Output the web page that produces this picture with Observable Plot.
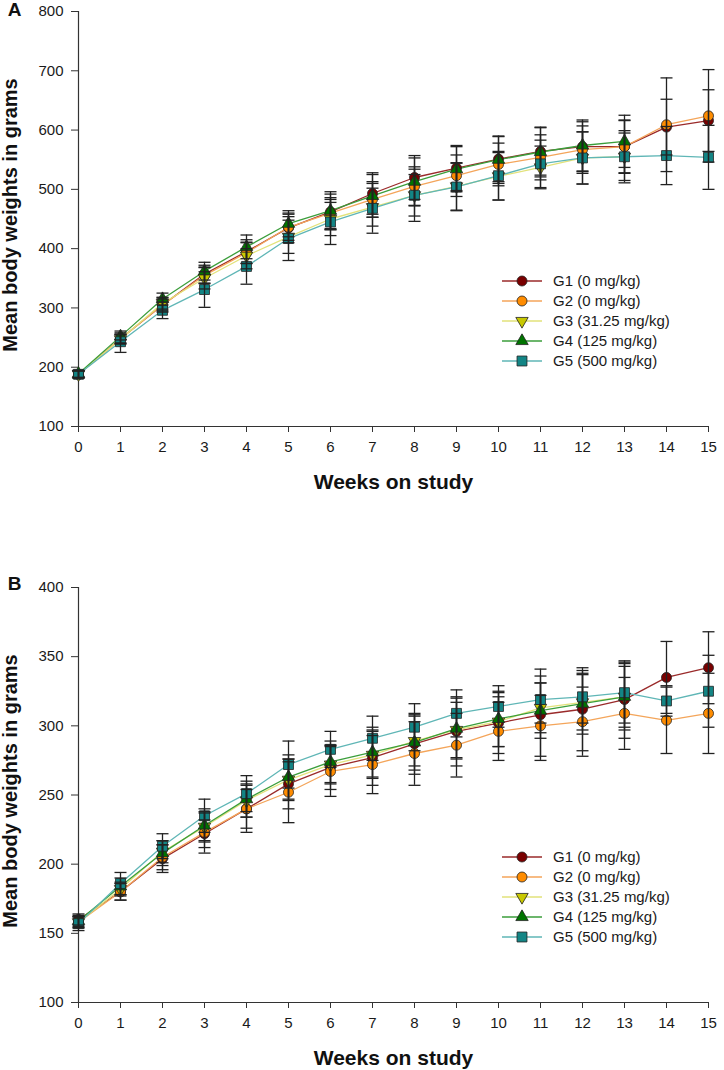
<!DOCTYPE html>
<html>
<head>
<meta charset="utf-8">
<script src="https://cdn.jsdelivr.net/npm/d3@7"></script>
<script src="https://cdn.jsdelivr.net/npm/@observablehq/plot@0.6"></script>
<style>
  html, body { margin: 0; padding: 0; background: #fff; }
  svg { display: block; }
</style>
</head>
<body>
<div id="chart"></div>
<script>
// ---------- data ----------
const weeks = [0,1,2,3,4,5,6,7,8,9,10,11,12,13,14,15];
const groupNames = ["G1 (0 mg/kg)", "G2 (0 mg/kg)", "G3 (31.25 mg/kg)", "G4 (125 mg/kg)", "G5 (500 mg/kg)"];

// Panel A (mean body weight, g)
const aG1 = [188, 248, 305, 357, 395, 435, 462, 493, 520, 536, 551, 564, 572, 572, 605, 616];
const aG2 = [188, 248, 305, 355, 393, 436, 460, 483, 505, 523, 542, 554, 567, 572, 609, 624];
const aG3 = [188, 247, 308, 350, 388, 420, 450, 470, 490, 505, 522, 537, 553, 555];
const aG4 = [189, 252, 315, 362, 403, 442, 464, 489, 513, 534, 550, 563, 574, 581];
const aG5 = [188, 243, 296, 331, 370, 417, 445, 468, 490, 504, 523, 543, 553, 555, 557, 554];
// Panel A standard deviations
const aSd1 = [6, 8, 12, 15, 20, 25, 30, 35, 37, 38, 38, 40, 42, 45, 47, 52];
const aSd2 = [6, 7, 10, 14, 18, 22, 26, 30, 33, 35, 36, 38, 40, 44, 79, 78];
const aSd3 = [6, 8, 10, 18, 22, 28, 28, 32, 35, 40, 40, 36, 44, 40];
const aSd4 = [6, 6, 10, 15, 20, 22, 32, 36, 40, 38, 40, 42, 43, 44];
const aSd5 = [6, 18, 14, 30, 30, 37, 38, 42, 44, 40, 41, 40, 44, 44, 49, 54];

// Panel B (mean body weight, g)
const bG1 = [160, 180, 204, 222, 240, 258, 270, 277, 287, 296, 302, 308, 312, 319, 335, 342];
const bG2 = [158, 180, 205, 223, 240, 252, 267, 272, 280, 286, 296, 300, 303, 309, 304, 309];
const bG3 = [158, 182, 209, 227, 246, 261, 272, 279, 289, 297, 303, 313, 317, 321];
const bG4 = [159, 184, 208, 228, 247, 263, 274, 281, 288, 298, 305, 311, 316, 321];
const bG5 = [157, 186, 213, 235, 251, 272, 283, 291, 299, 309, 314, 319, 321, 324, 318, 325];
// Panel B standard deviations
const bSd1 = [4, 6, 10, 10, 14, 18, 16, 20, 22, 25, 22, 33, 30, 28, 26, 26];
const bSd2 = [4, 6, 9, 15, 17, 22, 18, 21, 23, 23, 21, 22, 25, 26, 24, 29];
const bSd3 = [4, 5, 8, 10, 12, 15, 14, 17, 18, 20, 18, 18, 20, 22];
const bSd4 = [4, 6, 9, 12, 13, 16, 15, 18, 20, 22, 20, 20, 22, 24];
const bSd5 = [5, 8, 9, 12, 13, 17, 13, 16, 17, 17, 15, 17, 19, 22, 11, 26];

const aTicks = [100, 200, 300, 400, 500, 600, 700, 800];
const bTicks = [100, 150, 200, 250, 300, 350, 400];

// ---------- styles ----------
const lineColors = ["#9a2a2a", "#f4a55a", "#e2e27a", "#3b9e3b", "#5fb6b6"];
const fillColors = ["#7a0000", "#ff8c00", "#c8c800", "#007400", "#138585"];
const triDown = {
  draw(ctx, size) {
    const y = -Math.sqrt(size / (Math.sqrt(3) * 3));
    ctx.moveTo(0, -y * 2);
    ctx.lineTo(-Math.sqrt(3) * y, y);
    ctx.lineTo(Math.sqrt(3) * y, y);
    ctx.closePath();
  }
};
const hline = {
  draw(ctx, size) {
    const r = Math.sqrt(size / Math.PI);
    ctx.moveTo(-r, 0);
    ctx.lineTo(r, 0);
  }
};
const symbols = [d3.symbolCircle, d3.symbolCircle, triDown, d3.symbolTriangle, d3.symbolSquare];
const radii = [5, 5, 4.6, 4.6, 5.6];
const font = "'Liberation Sans', Arial, Helvetica, sans-serif";

function buildRows(means, sds) {
  const rows = [];
  means.forEach((arr, g) => {
    arr.forEach((v, i) => rows.push({group: g, week: weeks[i], mean: v, sd: sds[g][i]}));
  });
  return rows;
}

function panel({means, sds, yDomain, yTicks, height, marginTop, marginBottom, letter, letterDy, legendTop}) {
  const rows = buildRows(means, sds);
  const marks = [
    Plot.axisX({ticks: weeks, tickSize: 6, tickPadding: 9, label: null, tickFormat: d => d, stroke: "#333"}),
    Plot.axisY({ticks: yTicks, tickSize: 7, tickPadding: 8, label: null, tickFormat: d => d, stroke: "#333"}),
    Plot.ruleX([0], {stroke: "#333", strokeWidth: 1.2}),
    Plot.ruleY([yDomain[0]], {stroke: "#333", strokeWidth: 1.2})
  ];
  for (let g = 0; g < 5; g++) {
    marks.push(Plot.line(rows.filter(d => d.group === g), {x: "week", y: "mean", stroke: lineColors[g], strokeWidth: 1.3}));
  }
  for (let g = 0; g < 5; g++) {
    marks.push(Plot.dot(rows.filter(d => d.group === g), {
      x: "week", y: "mean", symbol: symbols[g], r: radii[g],
      fill: fillColors[g], stroke: "#222", strokeWidth: 0.8
    }));
  }
  marks.push(
    Plot.ruleX(rows, {x: "week", y1: d => d.mean - d.sd, y2: d => d.mean + d.sd, stroke: "#222", strokeWidth: 1.3}),
    Plot.dot(rows, {x: "week", y: d => d.mean + d.sd, symbol: hline, r: 6, stroke: "#222", strokeWidth: 1.3, fill: "none"}),
    Plot.dot(rows, {x: "week", y: d => d.mean - d.sd, symbol: hline, r: 6, stroke: "#222", strokeWidth: 1.3, fill: "none"}),
    Plot.text(["Weeks on study"], {frameAnchor: "bottom", dy: 56, fontSize: 21, fontWeight: "bold", fill: "#111", lineAnchor: "middle"}),
    Plot.text(["Mean body weights in grams"], {frameAnchor: "left", rotate: -90, dx: -68, dy: -4, fontSize: 20, fontWeight: "bold", fill: "#111", textAnchor: "middle", lineAnchor: "middle"}),
    Plot.text([letter], {frameAnchor: "top-left", dx: -64, dy: letterDy, fontSize: 19, fontWeight: "bold", fill: "#111", textAnchor: "middle", lineAnchor: "middle"})
  );
  const svg = Plot.plot({
    width: 724, height, marginLeft: 78, marginRight: 16, marginTop, marginBottom,
    style: {fontFamily: font, fontSize: "15px", color: "#1a1a1a", background: "#fff", overflow: "visible"},
    x: {domain: [0, 15]},
    y: {domain: yDomain},
    marks
  });
  // legend
  const lg = d3.select(svg).append("g")
    .attr("font-family", font).attr("font-size", 15).attr("fill", "#1a1a1a")
    .attr("text-anchor", "start");
  groupNames.forEach((name, g) => {
    const y = legendTop + 20 * g;
    lg.append("line").attr("x1", 502).attr("x2", 542).attr("y1", y).attr("y2", y)
      .attr("stroke", lineColors[g]).attr("stroke-width", 1.5);
    lg.append("path").attr("transform", `translate(522,${y})`)
      .attr("d", d3.symbol(symbols[g], radii[g] * radii[g] * Math.PI)())
      .attr("fill", fillColors[g]).attr("stroke", "#222").attr("stroke-width", 0.8);
    lg.append("text").attr("x", 553).attr("y", y).attr("dy", "0.35em")
      .attr("text-anchor", "start").text(name);
  });
  return svg;
}

const root = document.getElementById("chart");
root.appendChild(panel({
  means: [aG1, aG2, aG3, aG4, aG5], sds: [aSd1, aSd2, aSd3, aSd4, aSd5],
  yDomain: [100, 800], yTicks: aTicks, height: 530, marginTop: 11, marginBottom: 104,
  letter: "A", letterDy: -2, legendTop: 281
}));
root.appendChild(panel({
  means: [bG1, bG2, bG3, bG4, bG5], sds: [bSd1, bSd2, bSd3, bSd4, bSd5],
  yDomain: [100, 400], yTicks: bTicks, height: 540, marginTop: 57, marginBottom: 68,
  letter: "B", letterDy: -4, legendTop: 327
}));
</script>
</body>
</html>
